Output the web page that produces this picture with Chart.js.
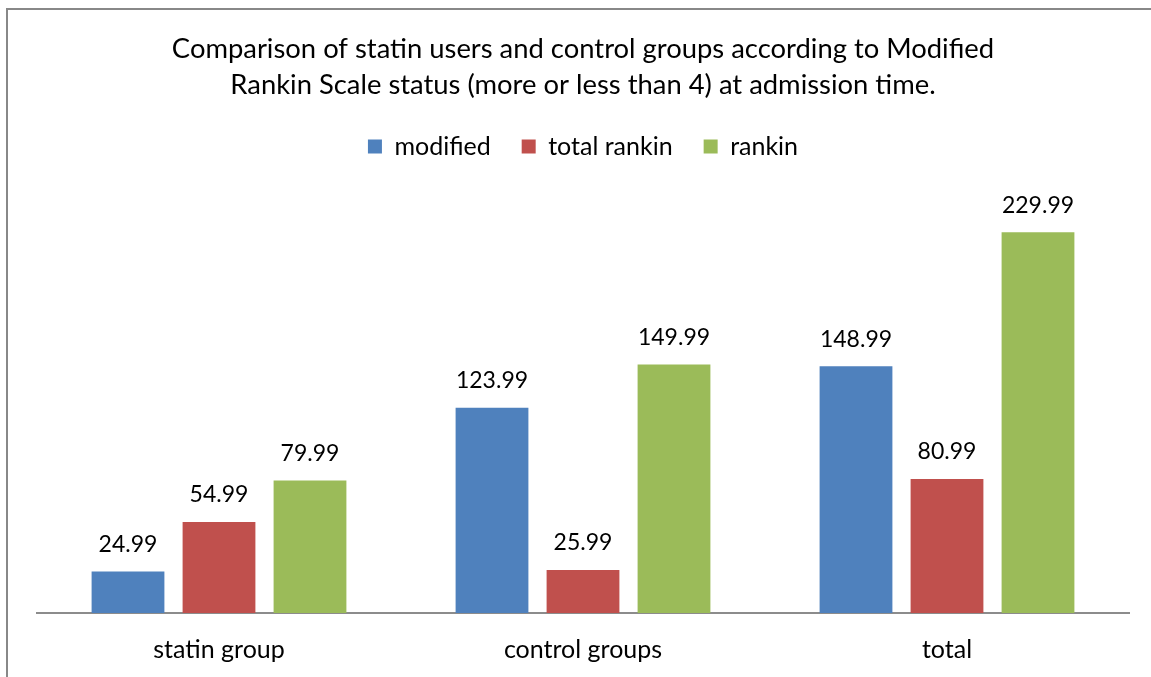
<!DOCTYPE html>
<html>
<head>
<meta charset="utf-8">
<script src="https://cdn.jsdelivr.net/npm/chart.js@4"></script>
<style>
    html, body { margin: 0; padding: 0; background: #fff; overflow: hidden; }
    #frame {
        position: absolute; left: 6px; top: 8px; width: 2000px; height: 2000px;
        border-left: 2px solid #888; border-top: 2px solid #888;
    }
    #wrap { position: absolute; left: 0; top: 0; width: 1151px; height: 677px; }
</style>
</head>
<body>
<div id="frame"></div>
<div id="wrap"><canvas id="chart"></canvas></div>
<script>
const categories = ['statin group', 'control groups', 'total'];
const modified = [24.99, 123.99, 148.99];
const totalRankin = [54.99, 25.99, 80.99];
const rankin = [79.99, 149.99, 229.99];
const titleLines = [
    'Comparison of statin users and control groups according to Modified',
    'Rankin Scale status (more or less than 4) at admission time.'
];

const FONT = 'Lato, "Open Sans", sans-serif';

// draws the value above each bar
const valueLabels = {
    id: 'valueLabels',
    afterDatasetsDraw(chart) {
        const ctx = chart.ctx;
        ctx.save();
        ctx.font = '23px ' + FONT;
        ctx.fillStyle = '#000';
        ctx.textAlign = 'center';
        ctx.textBaseline = 'middle';
        chart.data.datasets.forEach((ds, i) => {
            chart.getDatasetMeta(i).data.forEach((bar, j) => {
                ctx.fillText(ds.data[j].toFixed(2), bar.x, bar.y - 27);
            });
        });
        ctx.restore();
    }
};

new Chart(document.getElementById('chart'), {
    type: 'bar',
    data: {
        labels: categories,
        datasets: [
            { label: 'modified', data: modified, backgroundColor: '#4F81BD' },
            { label: 'total rankin', data: totalRankin, backgroundColor: '#C0504D' },
            { label: 'rankin', data: rankin, backgroundColor: '#9BBB59' }
        ]
    },
    options: {
        responsive: true,
        maintainAspectRatio: false,
        animation: false,
        categoryPercentage: 0.75,
        barPercentage: 0.8,
        layout: { padding: { left: 37, right: 22, top: 0, bottom: 12 } },
        plugins: {
            title: {
                display: true,
                text: titleLines,
                color: '#000',
                font: { family: FONT, size: 27.4, weight: 'normal', lineHeight: '36px' },
                padding: { top: 31, bottom: 0 }
            },
            legend: {
                labels: {
                    color: '#000',
                    font: { family: FONT, size: 25 },
                    boxWidth: 14,
                    boxHeight: 14,
                    padding: 31
                }
            },
            tooltip: { enabled: false }
        },
        scales: {
            x: {
                grid: { display: false, drawTicks: false },
                border: { display: true, color: '#8c8c8c', width: 2 },
                ticks: { color: '#000', font: { family: FONT, size: 25 }, padding: 22 },
                afterFit(scale) { scale.height = 52; }
            },
            // empty axis, only keeps space between legend and bars
            xTop: {
                type: 'category',
                position: 'top',
                grid: { display: false, drawTicks: false },
                border: { display: false },
                ticks: { display: false },
                afterFit(scale) { scale.height = 30; }
            },
            y: {
                display: false,
                min: 0,
                max: 250
            }
        }
    },
    plugins: [valueLabels]
});
</script>
</body>
</html>
